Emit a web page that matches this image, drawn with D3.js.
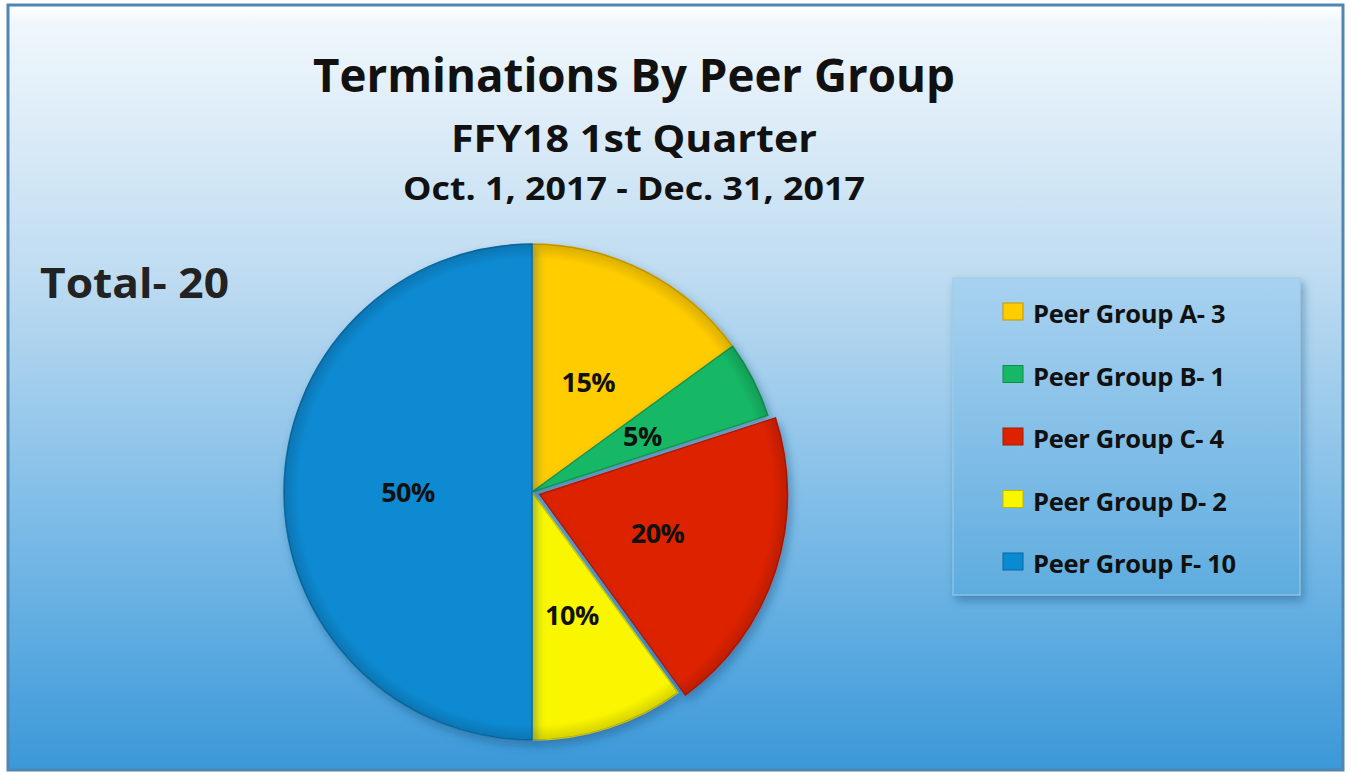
<!DOCTYPE html>
<html>
<head>
<meta charset="utf-8">
<script src="https://cdn.jsdelivr.net/npm/d3@7"></script>
<style>
  body { margin: 0; background: #fff; }
  svg { display: block; }
  text { font-family: "Open Sans", "Liberation Sans", sans-serif; font-weight: bold; fill: #111; }
</style>
</head>
<body>
<div id="chart"></div>
<script>
// chart data
const groups = ["Peer Group A", "Peer Group B", "Peer Group C", "Peer Group D", "Peer Group F"];
const counts = [3, 1, 4, 2, 10];
const colors = ["#FFCC00", "#17B865", "#DD2200", "#FAF600", "#0A8AD2"];
const exploded = [false, false, true, false, false];
const titleLines = ["Terminations By Peer Group", "FFY18 1st Quarter", "Oct. 1, 2017 - Dec. 31, 2017"];
const totalLabel = "Total- 20";

const W = 1351, H = 775;
const svg = d3.select("#chart").append("svg")
    .attr("width", W).attr("height", H);

const defs = svg.append("defs");

// background gradient (light at top, blue at bottom)
const bg = defs.append("linearGradient").attr("id", "bg")
    .attr("x1", 0).attr("y1", 0).attr("x2", 0).attr("y2", 1);
bg.append("stop").attr("offset", "0%").attr("stop-color", "#f4f9fd");
bg.append("stop").attr("offset", "35%").attr("stop-color", "#bfdcf1");
bg.append("stop").attr("offset", "75%").attr("stop-color", "#6db4e4");
bg.append("stop").attr("offset", "100%").attr("stop-color", "#3b98d8");

const legBg = defs.append("linearGradient").attr("id", "legbg")
    .attr("x1", 0).attr("y1", 0).attr("x2", 0).attr("y2", 1);
legBg.append("stop").attr("offset", "0%").attr("stop-color", "#a9d2f0");
legBg.append("stop").attr("offset", "100%").attr("stop-color", "#5eacdf");

const topBand = defs.append("linearGradient").attr("id", "topband")
    .attr("x1", 0).attr("y1", 0).attr("x2", 0).attr("y2", 1);
topBand.append("stop").attr("offset", "0%").attr("stop-color", "#ffffff").attr("stop-opacity", 0.9);
topBand.append("stop").attr("offset", "100%").attr("stop-color", "#ffffff").attr("stop-opacity", 0);

const shadow = defs.append("filter").attr("id", "shadow")
    .attr("x", "-20%").attr("y", "-20%").attr("width", "140%").attr("height", "140%");
shadow.append("feDropShadow").attr("dx", 3).attr("dy", 5).attr("stdDeviation", 5)
    .attr("flood-color", "#1a4f7a").attr("flood-opacity", 0.45);

const R = 248;
// rim shading around the pie edge, in the slice's own coordinates
const bevel = defs.append("radialGradient").attr("id", "bevel")
    .attr("gradientUnits", "userSpaceOnUse")
    .attr("cx", 0).attr("cy", 0).attr("r", R);
bevel.append("stop").attr("offset", "94%").attr("stop-color", "#000").attr("stop-opacity", 0);
bevel.append("stop").attr("offset", "100%").attr("stop-color", "#000").attr("stop-opacity", 0.15);

// frame
svg.append("rect").attr("x", 8).attr("y", 5).attr("width", 1335).attr("height", 765)
    .attr("fill", "url(#bg)").attr("stroke", "#4f86b3").attr("stroke-width", 3);
svg.append("rect").attr("x", 10).attr("y", 7).attr("width", 1331).attr("height", 14)
    .attr("fill", "url(#topband)");

// titles
const titleSpec = [
    { y: 92, size: 46, len: 642 },
    { y: 152, size: 38, len: 366 },
    { y: 200, size: 33, len: 462 }
];
titleLines.forEach((t, i) => {
    svg.append("text")
        .attr("x", 634).attr("y", titleSpec[i].y)
        .attr("text-anchor", "middle")
        .attr("font-size", titleSpec[i].size)
        .attr("textLength", titleSpec[i].len)
        .attr("lengthAdjust", "spacingAndGlyphs")
        .text(t);
});

svg.append("text").attr("x", 40).attr("y", 298)
    .attr("font-size", 42).attr("textLength", 189).attr("lengthAdjust", "spacingAndGlyphs")
    .style("fill", "#222")
    .text(totalLabel);

// pie
const cx = 532, cy = 492, explode = 8;
const total = d3.sum(counts);
const pie = d3.pie().sort(null).value(d => d)(counts);
const arc = d3.arc().innerRadius(0).outerRadius(R);

const g = svg.append("g").attr("transform", `translate(${cx},${cy})`);

const offset = (d, i) => {
    if (!exploded[i]) return [0, 0];
    const a = (d.startAngle + d.endAngle) / 2;
    return [Math.sin(a) * explode, -Math.cos(a) * explode];
};

const slices = g.selectAll("g.slice").data(pie).enter().append("g")
    .attr("class", "slice")
    .attr("transform", (d, i) => `translate(${offset(d, i)})`);

slices.append("path")
    .attr("d", arc)
    .attr("fill", (d, i) => colors[i])
    .attr("stroke", (d, i) => d3.color(colors[i]).darker(0.6))
    .attr("stroke-width", 1.5)
    .attr("filter", "url(#shadow)");

slices.append("path")
    .attr("d", arc)
    .attr("fill", "url(#bevel)");

// label positions tuned per slice
const labelR = [0.5, 0.5, 0.5, 0.52, 0.5];
slices.append("text")
    .attr("transform", (d, i) => {
        const a = (d.startAngle + d.endAngle) / 2;
        const r = R * labelR[i];
        return `translate(${Math.sin(a) * r},${-Math.cos(a) * r})`;
    })
    .attr("text-anchor", "middle")
    .attr("dy", "0.38em")
    .attr("font-size", 27)
    .attr("letter-spacing", -0.5)
    .text(d => Math.round(d.data / total * 100) + "%");

// legend
const lg = svg.append("g").attr("transform", "translate(953,278)");
lg.append("rect").attr("width", 347).attr("height", 317)
    .attr("fill", "url(#legbg)")
    .attr("stroke", "#9ccbec").attr("stroke-width", 1)
    .attr("filter", "url(#shadow)");

const items = lg.selectAll("g.item").data(groups).enter().append("g")
    .attr("class", "item")
    .attr("transform", (d, i) => `translate(0,${36 + i * 62.5})`);

items.append("rect")
    .attr("x", 50).attr("y", -11).attr("width", 20).attr("height", 17)
    .attr("fill", (d, i) => colors[i])
    .attr("stroke", (d, i) => d3.color(colors[i]).darker(0.8))
    .attr("stroke-width", 1);

items.append("text")
    .attr("x", 80).attr("y", 9)
    .attr("font-size", 25.5)
    .attr("letter-spacing", -0.3)
    .text((d, i) => `${d}- ${counts[i]}`);
</script>
</body>
</html>
